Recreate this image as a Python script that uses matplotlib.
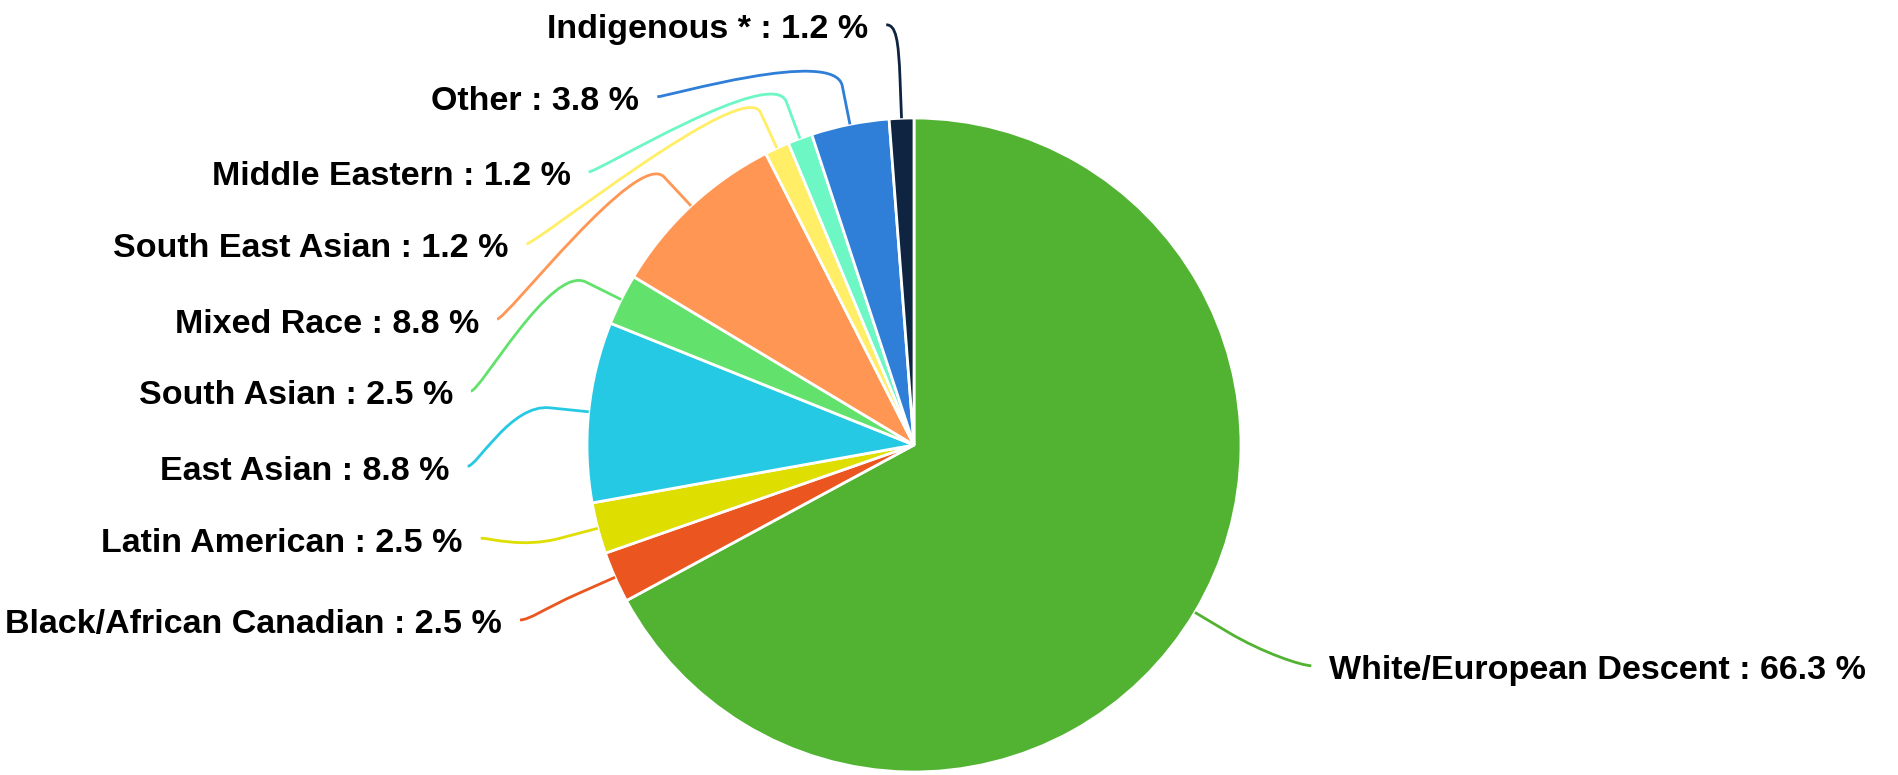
import matplotlib.pyplot as plt
import numpy as np
from matplotlib.path import Path
from matplotlib.patches import PathPatch

# data, clockwise from the top
categories = ["White/European Descent", "Black/African Canadian", "Latin American",
              "East Asian", "South Asian", "Mixed Race", "South East Asian",
              "Middle Eastern", "Other", "Indigenous *"]
shares = [66.3, 2.5, 2.5, 8.8, 2.5, 8.8, 1.2, 1.2, 3.8, 1.2]
colors = ["#52b332", "#eb5520", "#dede00", "#26c9e3", "#62e26c",
          "#ff9653", "#ffee66", "#6cf7c4", "#2f7ed8", "#0e2440"]

# label anchor positions (pie radius = 1)
label_pos = [(1.27, -0.69), (-1.26, -0.55), (-1.38, -0.30), (-1.42, -0.08),
             (-1.41, 0.15), (-1.33, 0.37), (-1.24, 0.60), (-1.05, 0.82),
             (-0.84, 1.05), (-0.14, 1.27)]

R_BREAK = 1.12
GAP = 0.055

fig = plt.figure(figsize=(18.98, 7.75), dpi=100)
ax = fig.add_axes([0, 0, 1, 1])

wedges, _ = ax.pie(shares, colors=colors, startangle=90, counterclock=False,
                   radius=1.0, center=(0, 0), frame=True,
                   wedgeprops=dict(edgecolor="white", linewidth=2))
ax.set_xlim(-914 / 327, (1898 - 914) / 327)
ax.set_ylim(-330 / 327, 445 / 327)
ax.set_aspect("auto")
ax.axis("off")

for w, name, val, col, (lx, ly) in zip(wedges, categories, shares, colors, label_pos):
    mid = np.deg2rad((w.theta1 + w.theta2) / 2)
    touch = np.array([np.cos(mid), np.sin(mid)])
    brk = R_BREAK * touch
    right = lx > 0
    sign = 1 if right else -1
    end = np.array([lx - sign * GAP, ly + 0.015])
    path = Path([touch, brk, 2 * brk - touch, end - np.array([sign * 0.03, 0]), end],
                [Path.MOVETO, Path.LINETO, Path.CURVE4, Path.CURVE4, Path.CURVE4])
    ax.add_patch(PathPatch(path, facecolor="none", edgecolor=col, lw=2))
    ax.text(lx, ly, f"{name} : {val} %", ha="left" if right else "right",
            va="center", fontsize=24.5, fontweight="bold",
            family="Liberation Sans", color="black")

fig.savefig("out.png", dpi=100)
